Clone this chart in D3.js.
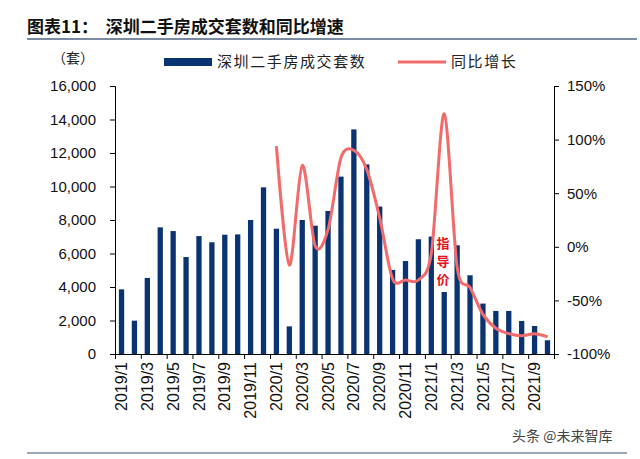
<!DOCTYPE html>
<html><head><meta charset="utf-8">
<script src="https://cdn.jsdelivr.net/npm/d3@7/dist/d3.min.js"></script>
<style>
body{margin:0;background:#fff;}
svg{display:block;}
</style></head>
<body>
<svg id="c" width="640" height="459"></svg>
<script>
const months = ["2019/1","2019/2","2019/3","2019/4","2019/5","2019/6","2019/7","2019/8","2019/9","2019/10","2019/11","2019/12",
"2020/1","2020/2","2020/3","2020/4","2020/5","2020/6","2020/7","2020/8","2020/9","2020/10","2020/11","2020/12",
"2021/1","2021/2","2021/3","2021/4","2021/5","2021/6","2021/7","2021/8","2021/9","2021/10"];
const deals = [3860,1990,4540,7560,7340,5790,7040,6670,7120,7140,8000,9950,
7480,1650,8000,7660,8540,10590,13410,11320,8800,5020,5550,6850,
7010,3700,6490,4700,3010,2570,2570,1970,1670,820];
const yoyMonths = months.slice(12);
const yoy = [94,-17,76,1,16,83,90,72,27,-30,-31,-31,-6,124,-19,-38,-63,-76,-81,-83,-81,-84];
const leftTicks = [0,2000,4000,6000,8000,10000,12000,14000,16000];
const rightTicks = [-100,-50,0,50,100,150];

const svg = d3.select("#c");
const X0=115, X1=554, Y0=354, Y1=86;
const font = "'Liberation Sans', Arial, sans-serif";
const cjk = "'Noto Sans CJK SC', sans-serif";

// title
svg.append("text").attr("x",27).attr("y",33).attr("font-family",cjk).attr("font-weight","bold")
  .attr("font-size",17).attr("fill","#111").attr("xml:space","preserve").text("图表11：  深圳二手房成交套数和同比增速");
svg.append("line").attr("x1",27).attr("x2",637).attr("y1",39).attr("y2",39).attr("stroke","#7b8aa0").attr("stroke-width",2);
svg.append("line").attr("x1",27).attr("x2",627).attr("y1",453).attr("y2",453).attr("stroke","#7b8aa0").attr("stroke-width",1.5);

const x = d3.scaleBand().domain(months).range([X0,X1]).paddingInner(0.59).paddingOuter(0.3);
const xi = d3.scaleLinear().domain([0,months.length]).range([X0,X1]);
const y = d3.scaleLinear().domain([0,16000]).range([Y0,Y1]);
const yr = d3.scaleLinear().domain([-100,150]).range([Y0,Y1]);

// bars
svg.append("g").selectAll("rect").data(deals).join("rect")
  .attr("x",(d,i)=>x(months[i])).attr("width",x.bandwidth())
  .attr("y",d=>y(d)).attr("height",d=>Y0-y(d)).attr("fill","#0a3372");

// line
const line = d3.line().x((d,i)=>xi(months.indexOf(yoyMonths[i]))+ (xi(1)-xi(0))/2).y(d=>yr(d)).curve(d3.curveCardinal.tension(0.1));
svg.append("path").datum(yoy).attr("d",line).attr("fill","none").attr("stroke","#f26a6a").attr("stroke-width",3);

// left axis
const ga = svg.append("g").attr("transform",`translate(${X0},0)`)
  .call(d3.axisLeft(y).tickValues(leftTicks).tickSize(5).tickPadding(14).tickFormat(d3.format(",")));
ga.selectAll("text").attr("font-family",font).attr("font-size",15).attr("fill","#111");
ga.selectAll("line,path").attr("stroke","#000");
// right axis
const gr = svg.append("g").attr("transform",`translate(${X1},0)`)
  .call(d3.axisRight(yr).tickValues(rightTicks).tickSize(5).tickPadding(8).tickFormat(d=>d+"%"));
gr.selectAll("text").attr("font-family",font).attr("font-size",15).attr("fill","#111");
gr.selectAll("line,path").attr("stroke","#000");
// bottom ticks
const gt = svg.append("g").attr("transform",`translate(0,${Y0})`)
  .call(d3.axisBottom(xi).tickValues(d3.range(0,months.length+1,2)).tickSize(5).tickSizeOuter(0).tickFormat(""));
gt.selectAll("line,path").attr("stroke","#000");
// bottom labels
const gb = svg.append("g").attr("transform",`translate(0,${Y0})`)
  .call(d3.axisBottom(x).tickValues(months.filter((m,i)=>i%2===0)).tickSize(0).tickPadding(0));
gb.select("path").remove();
gb.selectAll("text").attr("font-family",font).attr("font-size",16).attr("fill","#111")
  .attr("text-anchor","end").attr("dy","0.35em").attr("transform","translate(0,8) rotate(-90)").attr("y",0).attr("x",0);

// units
svg.append("text").attr("x",52).attr("y",63).attr("font-family",cjk).attr("font-size",14).attr("fill","#222").text("（套）");

// legend
svg.append("rect").attr("x",164).attr("y",58).attr("width",48).attr("height",8).attr("fill","#0a3372");
svg.append("text").attr("x",217).attr("y",67).attr("font-family",cjk).attr("font-size",15).attr("letter-spacing",1.6).attr("fill","#222").text("深圳二手房成交套数");
svg.append("line").attr("x1",398).attr("x2",446).attr("y1",62).attr("y2",62).attr("stroke","#f26a6a").attr("stroke-width",3);
svg.append("text").attr("x",451).attr("y",67).attr("font-family",cjk).attr("font-size",15).attr("letter-spacing",1.6).attr("fill","#222").text("同比增长");

// annotation
const ann = ["指","导","价"];
svg.append("g").selectAll("text").data(ann).join("text")
  .attr("x",443).attr("y",(d,i)=>248+i*18).attr("text-anchor","middle").attr("font-family",cjk).attr("font-weight","bold")
  .attr("font-size",13).attr("fill","#e8101a").text(d=>d);

// watermark
svg.append("text").attr("x",512).attr("y",441).attr("font-family",cjk).attr("font-size",14).attr("fill","#444").text("头条 @未来智库");
</script>
</body></html>
